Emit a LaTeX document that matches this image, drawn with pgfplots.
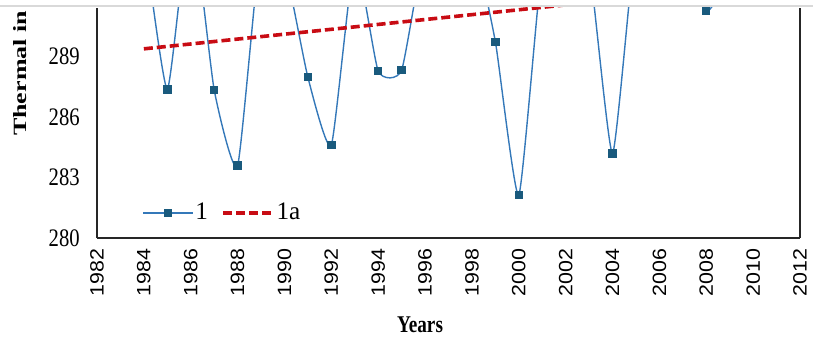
\documentclass[border=0pt]{standalone}
\usepackage{pgfplots}
\pgfplotsset{compat=1.18}
\usepackage{fontspec}
\setmainfont{Liberation Serif}
\newfontfamily\labelsans{Liberation Sans}
\definecolor{serblue}{RGB}{52,120,185}
\definecolor{sermark}{RGB}{25,90,125}
\definecolor{trendred}{RGB}{200,12,20}

\begin{document}
\begin{tikzpicture}
\begin{axis}[
  scale only axis, width=351.5pt, height=115.25pt,
  xmin=1982, xmax=2012, ymin=280, ymax=291.43,
  xtick={1982,1984,...,2012}, ytick={280,283,286,289},
  /pgf/number format/1000 sep={},
  /pgf/number format/assume math mode=true,
  major tick length=0pt,
  axis x line*=bottom,
  axis line style={line width=1pt, black!85},
  x tick label style={font=\labelsans\fontsize{10.7}{12}\selectfont, xscale=0.9, rotate=90, anchor=east, inner sep=0pt},
  xticklabel shift=5pt,
  y tick label style={font=\fontsize{12.6}{14}\selectfont, xscale=0.82, anchor=east, inner sep=0pt},
  yticklabel shift=8.5pt,
  xlabel={Years},
  xlabel style={at={(rel axis cs:0.4595,0)}, anchor=north, inner sep=0pt, yshift=-39pt,
    font=\bfseries\fontsize{12}{14}\selectfont, xscale=0.8},
  clip marker paths=true,
  legend columns=2,
  legend style={draw=none, fill=none, at={(rel axis cs:0.0556,0.108)}, anchor=west,
    font=\fontsize{12.6}{14}\selectfont,
    nodes={inner xsep=0.75pt},
    /tikz/every even column/.append style={column sep=6pt}},
  legend image code/.code={\draw[mark repeat=2,mark phase=2,#1] plot coordinates {(0pt,0pt) (12.5pt,0pt) (25pt,0pt)};},
]
% annual series
\addplot[serblue, line width=0.7pt, smooth, /tikz/tension=0.3, mark=square*, mark size=1.75pt,
  mark options={sermark, fill=sermark, solid}] coordinates {
  (1984,295) (1985,287.37) (1986,296) (1987,287.35) (1988,283.59)
  (1989,294.5) (1990,293.5) (1991,287.97) (1992,284.61) (1993,293.8)
  (1994,288.28) (1995,288.33) (1996,294.5) (1997,296) (1998,295)
  (1999,289.73) (2000,282.13) (2001,293.5) (2002,295) (2003,293.5)
  (2004,284.2) (2005,294.8) (2006,296) (2007,295) (2008,291.25)
  (2009,293) (2010,295) (2011,294)};
\addlegendentry{1}
% linear trend
\addplot[trendred, line width=1.8pt, dash pattern=on 4.5pt off 2pt, no markers]
  coordinates {(1984,289.38) (2011,292.65)};
\addlegendentry{1a}
\coordinate (tl) at (rel axis cs:0,1);
\coordinate (tr) at (rel axis cs:1,1);
\coordinate (bl) at (rel axis cs:0,0);
\end{axis}
\node[font=\bfseries\fontsize{13}{15}\selectfont, xscale=0.72, rotate=90, anchor=east, inner sep=0pt]
  at ([xshift=-38.5pt,yshift=-1.5pt]tl) {Thermal in};
\draw[black!15, line width=0.8pt] ([xshift=-48.5pt,yshift=0.85pt]tl) -- ([xshift=6.5pt,yshift=0.85pt]tr);
\pgfresetboundingbox
\path[use as bounding box] ([xshift=-48.5pt,yshift=-50pt]bl) rectangle ([xshift=6.5pt,yshift=3.75pt]tr);
\end{tikzpicture}
\end{document}
